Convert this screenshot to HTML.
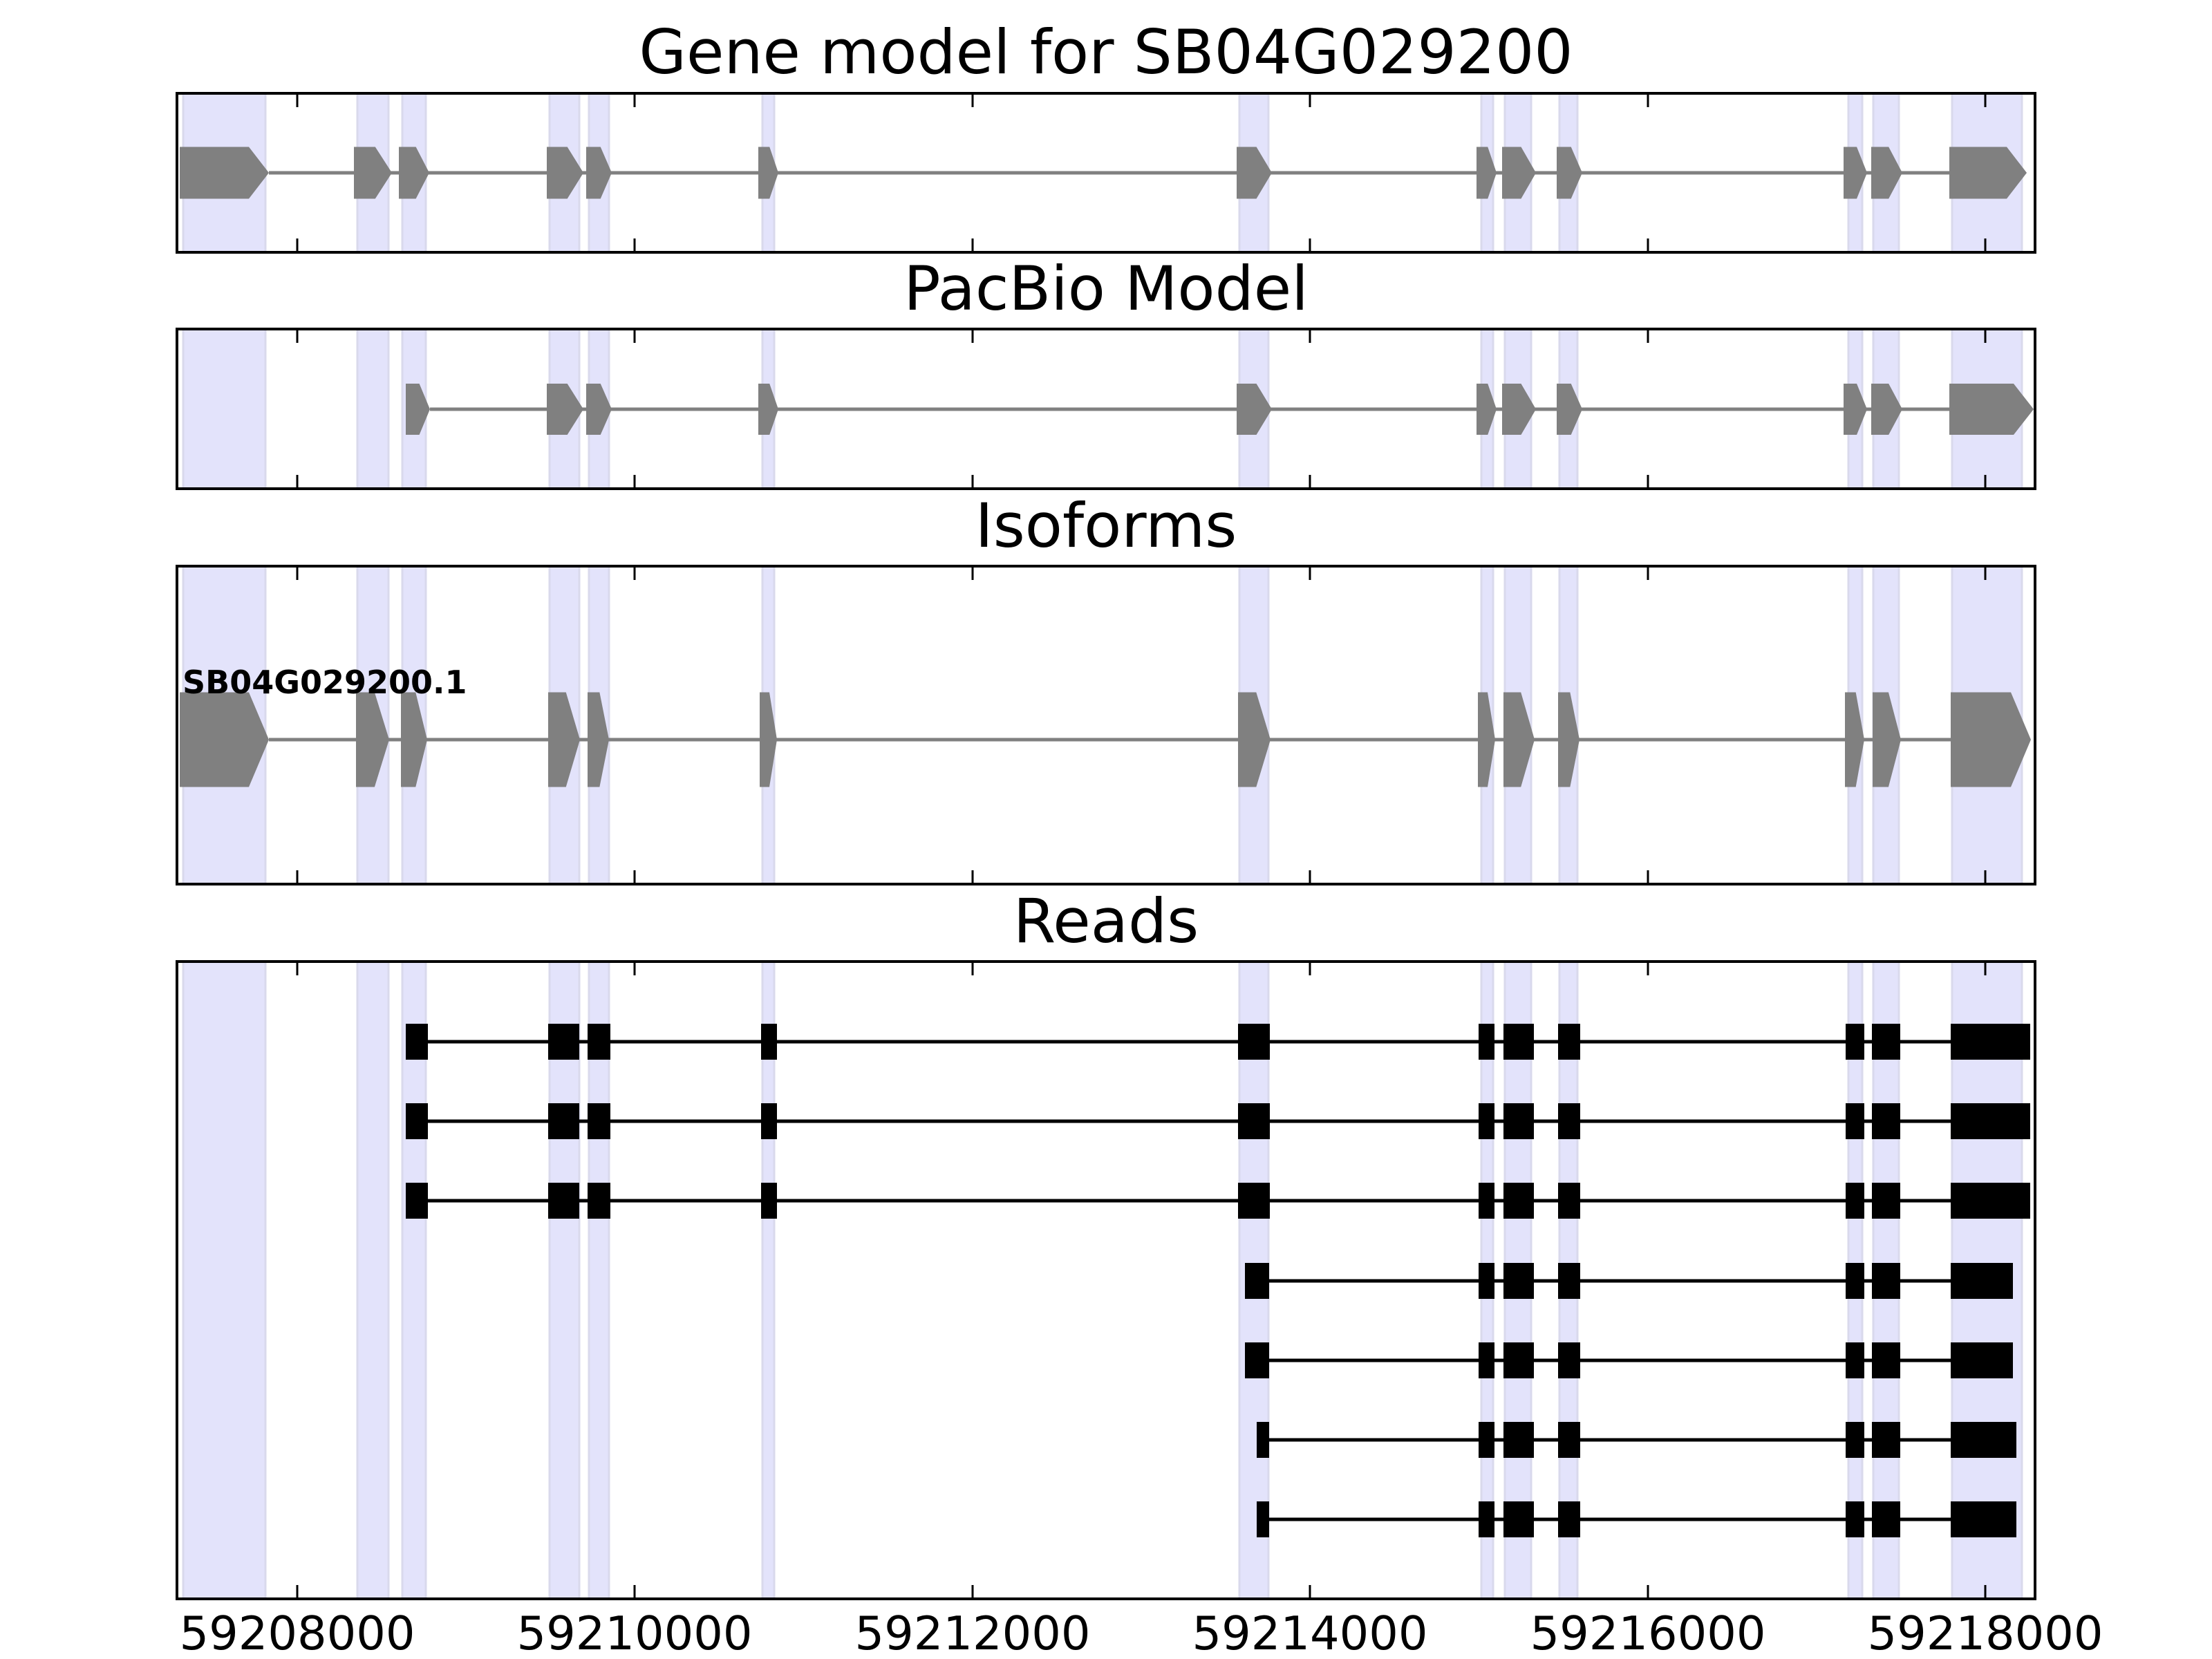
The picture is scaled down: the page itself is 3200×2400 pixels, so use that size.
<!DOCTYPE html>
<html><head><meta charset="utf-8"><style>
html,body{margin:0;padding:0;background:#fff;}
svg{display:block;}
text{font-family:"DejaVu Sans","Liberation Sans",sans-serif;}
</style></head><body>
<svg id="s" xmlns="http://www.w3.org/2000/svg" width="3200" height="2400" viewBox="0 0 3200 2400">
<rect width="3200" height="2400" fill="#fff"/>
<g id="g"></g>
<text x="1600" y="106" font-size="88.5" text-anchor="middle">Gene model for SB04G029200</text>
<text x="1600" y="448" font-size="88.5" text-anchor="middle">PacBio Model</text>
<text x="1600" y="791" font-size="88.5" text-anchor="middle">Isoforms</text>
<text x="1600" y="1363" font-size="88.5" text-anchor="middle">Reads</text>
<text x="264" y="1003" font-size="46" font-weight="bold">SB04G029200.1</text>
<g font-size="67" text-anchor="middle">
<text x="430" y="2386">59208000</text>
<text x="918" y="2386">59210000</text>
<text x="1407" y="2386">59212000</text>
<text x="1895" y="2386">59214000</text>
<text x="2384" y="2386">59216000</text>
<text x="2872" y="2386">59218000</text>
</g>
</svg>
<script>
var g=document.getElementById('g'),h='';
var panels=[[135,365],[476,707],[819,1279],[1391,2313]];
var shades=[[265,384],[517,562],[582,616],[795,838],[852,881],[1103,1120],[1793,1835],[2143,2160],[2177,2215],[2256,2282],[2674,2694],[2710,2747],[2824,2925]];
panels.forEach(function(p){
 shades.forEach(function(s){
  h+='<rect x="'+s[0]+'" y="'+p[0]+'" width="'+(s[1]-s[0])+'" height="'+(p[1]-p[0])+'" fill="#e3e3fb" stroke="#d9d9ec" stroke-width="3"/>';
 });
});
function gene(ex,cy,hh){
 h+='<line x1="'+ex[0][1]+'" y1="'+cy+'" x2="'+ex[ex.length-1][0]+'" y2="'+cy+'" stroke="#808080" stroke-width="5"/>';
 ex.forEach(function(e){
  var w=e[1]-e[0],t=Math.min(29,0.44*w),m=e[1]-t;
  h+='<polygon fill="#808080" points="'+e[0]+','+(cy-hh)+' '+m+','+(cy-hh)+' '+e[1]+','+cy+' '+m+','+(cy+hh)+' '+e[0]+','+(cy+hh)+'"/>';
 });
}
var common=[[791,844],[848,885],[1097,1126],[1789,1840],[2136,2165],[2173,2222],[2252,2289],[2667,2701],[2707,2752]];
gene([[260,389],[512,567],[577,621]].concat(common,[[2820,2932]]),250,37.5);
gene([[587,622]].concat(common,[[2820,2942]]),592,37);
gene([[260,389],[515,563],[580,618],[793,839],[850,881],[1099,1124],[1791,1838],[2138,2163],[2175,2220],[2254,2285],[2669,2697],[2709,2750],[2822,2938]],1070,68.5);
var tail=[[2139,2162],[2175,2219],[2254,2286],[2670,2697],[2708,2749]];
var full=[[587,619],[793,838],[850,883],[1101,1124],[1791,1837]].concat(tail);
var rows=[
 [1507,full.concat([[2822,2937]])],
 [1622,full.concat([[2822,2937]])],
 [1737,full.concat([[2822,2937]])],
 [1853,[[1801,1836]].concat(tail,[[2822,2912]])],
 [1968,[[1801,1836]].concat(tail,[[2822,2912]])],
 [2083,[[1818,1836]].concat(tail,[[2822,2917]])],
 [2198,[[1818,1836]].concat(tail,[[2822,2917]])]
];
rows.forEach(function(r){
 var cy=r[0],b=r[1];
 h+='<line x1="'+b[0][1]+'" y1="'+cy+'" x2="'+b[b.length-1][0]+'" y2="'+cy+'" stroke="#000" stroke-width="5"/>';
 b.forEach(function(e){h+='<rect x="'+e[0]+'" y="'+(cy-26)+'" width="'+(e[1]-e[0])+'" height="52" fill="#000"/>';});
});
var ticks=[430,918,1407,1895,2384,2872];
panels.forEach(function(p){
 ticks.forEach(function(t){
  h+='<line x1="'+t+'" y1="'+p[0]+'" x2="'+t+'" y2="'+(p[0]+20)+'" stroke="#000" stroke-width="3"/>';
  h+='<line x1="'+t+'" y1="'+p[1]+'" x2="'+t+'" y2="'+(p[1]-20)+'" stroke="#000" stroke-width="3"/>';
 });
 h+='<rect x="256" y="'+p[0]+'" width="2688" height="'+(p[1]-p[0])+'" fill="none" stroke="#000" stroke-width="4"/>';
});
g.innerHTML=h;
</script>
</body></html>
